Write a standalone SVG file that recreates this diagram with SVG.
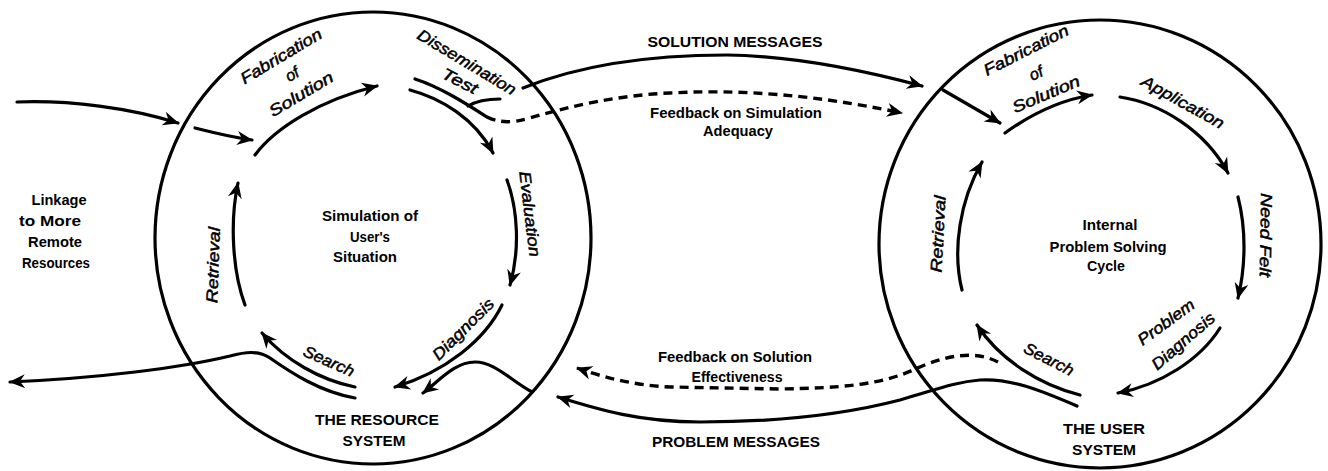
<svg xmlns="http://www.w3.org/2000/svg" width="1328" height="471" viewBox="0 0 1328 471">
<defs>
<marker id="ah" markerUnits="userSpaceOnUse" markerWidth="18" markerHeight="14" refX="15" refY="7" orient="auto" overflow="visible">
<path d="M0,0 L16,7 L0,14 L5,7 Z" fill="#000"/>
</marker>
<style>
.ring{fill:none;stroke:#000;stroke-width:3.2}
.ln{fill:none;stroke:#000;stroke-width:3.2;stroke-linecap:round}
.ar{fill:none;stroke:#000;stroke-width:3.2;stroke-linecap:round;marker-end:url(#ah)}
.ds{fill:none;stroke:#000;stroke-width:3.4;stroke-dasharray:9 6}
.dsa{fill:none;stroke:#000;stroke-width:3.4;stroke-dasharray:9 6;marker-end:url(#ah)}
.it{font-family:"Liberation Sans",Arial,sans-serif;font-style:italic;font-size:16px;fill:#000;stroke:#000;stroke-width:0.5;text-anchor:middle}
.bd{font-family:"Liberation Sans",Arial,sans-serif;font-weight:bold;font-size:15px;fill:#000;text-anchor:middle}
.sm{font-family:"Liberation Sans",Arial,sans-serif;font-weight:bold;font-size:14px;fill:#000;text-anchor:middle}
</style>
</defs>
<rect width="1328" height="471" fill="#fff"/>

<g id="linkage-label">
<text class="sm" x="59" y="205" textLength="55" lengthAdjust="spacingAndGlyphs">Linkage</text>
<text class="sm" x="50" y="226" textLength="62" lengthAdjust="spacingAndGlyphs">to More</text>
<text class="sm" x="55" y="247" textLength="54" lengthAdjust="spacingAndGlyphs">Remote</text>
<text class="sm" x="56" y="268" textLength="68" lengthAdjust="spacingAndGlyphs">Resources</text>
</g>

<g id="resource-system">
<ellipse class="ring" cx="373" cy="238" rx="218" ry="226"/>
<path class="ar" d="M255,155 C275,128 320,100 377,86"/>
<path class="ln" d="M415,79 C440,87 465,103 487,117"/>
<path class="ln" d="M468,106 C478,100 490,99 500,99"/>
<path class="ar" d="M410,90 C440,98 475,118 493,153"/>
<path class="ar" d="M507,180 C518,210 520,250 510,285"/>
<path class="ar" d="M502,305 C485,340 445,372 395,387"/>
<path class="ar" d="M355,387 C320,380 285,360 262,333"/>
<path class="ar" d="M245,305 C232,270 230,220 238,183"/>
<text class="it" transform="translate(281,56) rotate(-31)" dy="0.35em" textLength="92" lengthAdjust="spacingAndGlyphs">Fabrication</text>
<text class="it" transform="translate(292,74) rotate(-31)" dy="0.35em">of</text>
<text class="it" transform="translate(301,94) rotate(-31)" dy="0.35em" textLength="72" lengthAdjust="spacingAndGlyphs">Solution</text>
<text class="it" transform="translate(467,62) rotate(31)" dy="0.35em" textLength="112" lengthAdjust="spacingAndGlyphs">Dissemination</text>
<text class="it" transform="translate(460,81) rotate(27)" dy="0.35em" textLength="38" lengthAdjust="spacingAndGlyphs">Test</text>
<text class="it" transform="translate(530,214) rotate(83)" dy="0.35em" textLength="86" lengthAdjust="spacingAndGlyphs">Evaluation</text>
<text class="it" transform="translate(463,329) rotate(-45)" dy="0.35em" textLength="80" lengthAdjust="spacingAndGlyphs">Diagnosis</text>
<text class="it" transform="translate(329,361) rotate(24)" dy="0.35em" textLength="54" lengthAdjust="spacingAndGlyphs">Search</text>
<text class="it" transform="translate(213,265) rotate(-88)" dy="0.35em" textLength="76" lengthAdjust="spacingAndGlyphs">Retrieval</text>
<text class="sm" x="370" y="221" textLength="96" lengthAdjust="spacingAndGlyphs">Simulation of</text>
<text class="sm" x="370" y="242" textLength="40" lengthAdjust="spacingAndGlyphs">User's</text>
<text class="sm" x="365" y="262" textLength="64" lengthAdjust="spacingAndGlyphs">Situation</text>
<text class="bd" x="377" y="425" textLength="124" lengthAdjust="spacingAndGlyphs">THE RESOURCE</text>
<text class="bd" x="374" y="446" textLength="63" lengthAdjust="spacingAndGlyphs">SYSTEM</text>
</g>

<g id="user-system">
<ellipse class="ring" cx="1100" cy="244" rx="221" ry="224"/>
<path class="ar" d="M1005,133 C1030,115 1060,100 1092,95"/>
<path class="ar" d="M1120,97 C1160,103 1205,130 1228,173"/>
<path class="ar" d="M1238,197 C1246,228 1246,265 1238,298"/>
<path class="ar" d="M1220,328 C1200,360 1160,385 1118,393"/>
<path class="ar" d="M1080,395 C1040,385 1000,360 977,325"/>
<path class="ar" d="M962,290 C952,250 960,200 982,162"/>
<text class="it" transform="translate(1026,50) rotate(-27)" dy="0.35em" textLength="93" lengthAdjust="spacingAndGlyphs">Fabrication</text>
<text class="it" transform="translate(1036,73) rotate(-25)" dy="0.35em">of</text>
<text class="it" transform="translate(1046,94) rotate(-23)" dy="0.35em" textLength="72" lengthAdjust="spacingAndGlyphs">Solution</text>
<text class="it" transform="translate(1183,102) rotate(29)" dy="0.35em" textLength="92" lengthAdjust="spacingAndGlyphs">Application</text>
<text class="it" transform="translate(1266,235) rotate(91)" dy="0.35em" textLength="84" lengthAdjust="spacingAndGlyphs">Need Felt</text>
<text class="it" transform="translate(1166,322) rotate(-36)" dy="0.35em" textLength="66" lengthAdjust="spacingAndGlyphs">Problem</text>
<text class="it" transform="translate(1183,341) rotate(-41)" dy="0.35em" textLength="78" lengthAdjust="spacingAndGlyphs">Diagnosis</text>
<text class="it" transform="translate(1049,359) rotate(27)" dy="0.35em" textLength="54" lengthAdjust="spacingAndGlyphs">Search</text>
<text class="it" transform="translate(938,234) rotate(-87)" dy="0.35em" textLength="77" lengthAdjust="spacingAndGlyphs">Retrieval</text>
<text class="sm" x="1110" y="230" textLength="55" lengthAdjust="spacingAndGlyphs">Internal</text>
<text class="sm" x="1108" y="252" textLength="117" lengthAdjust="spacingAndGlyphs">Problem Solving</text>
<text class="sm" x="1106" y="271" textLength="38" lengthAdjust="spacingAndGlyphs">Cycle</text>
<text class="bd" x="1104" y="434" textLength="82" lengthAdjust="spacingAndGlyphs">THE USER</text>
<text class="bd" x="1104" y="455" textLength="64" lengthAdjust="spacingAndGlyphs">SYSTEM</text>
</g>

<g id="connectors">
<path class="ar" d="M17,102 C70,100 130,108 178,123"/>
<path class="ar" d="M195,128 C215,133 230,137 252,140"/>
<path class="ar" d="M523,88 C580,65 650,55 727,55 C800,56 870,72 922,86"/>
<path class="dsa" d="M487,117 C497,122 510,124 530,118 C570,106 620,95 670,93 C760,88 840,100 902,113"/>
<path class="ar" d="M943,90 L1000,123"/>
<path class="dsa" d="M998,362 C975,350 945,355 913,370 C880,385 840,388 780,389 L670,387 C630,385 600,376 577,368"/>
<path class="ar" d="M1077,406 C1040,390 1010,378 980,380 C955,382 935,390 900,400 C850,413 780,422 700,422 C640,422 600,410 558,397"/>
<path class="ar" d="M532,392 C510,380 495,362 475,362 C455,362 440,380 423,393"/>
<path class="ar" d="M355,398 C320,392 290,372 270,358 C258,350 245,352 230,356 C180,368 100,378 10,382"/>
<text class="bd" x="735" y="47" textLength="175" lengthAdjust="spacingAndGlyphs">SOLUTION MESSAGES</text>
<text class="sm" x="736" y="118" textLength="172" lengthAdjust="spacingAndGlyphs">Feedback on Simulation</text>
<text class="sm" x="738" y="136" textLength="70" lengthAdjust="spacingAndGlyphs">Adequacy</text>
<text class="sm" x="735" y="362" textLength="154" lengthAdjust="spacingAndGlyphs">Feedback on Solution</text>
<text class="sm" x="737" y="382" textLength="91" lengthAdjust="spacingAndGlyphs">Effectiveness</text>
<text class="bd" x="736" y="447" textLength="168" lengthAdjust="spacingAndGlyphs">PROBLEM MESSAGES</text>
</g>
</svg>
